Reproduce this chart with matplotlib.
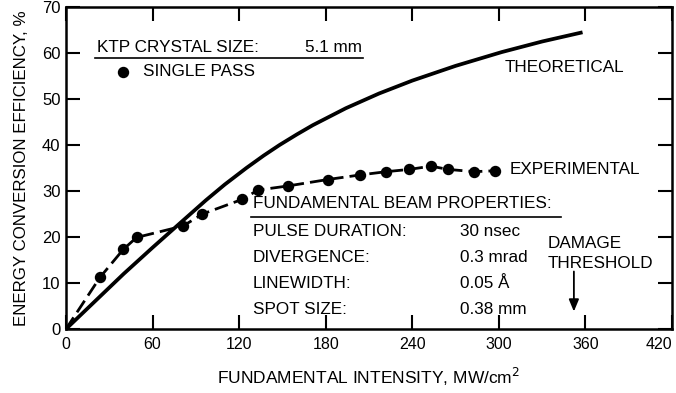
import matplotlib
matplotlib.use("Agg")
import matplotlib.pyplot as plt
import numpy as np

plt.rcParams['font.family'] = ['Liberation Sans', 'DejaVu Sans']

# Data
theo_x = [0, 20, 40, 60, 79, 97, 110, 125, 137, 148, 160, 171, 194, 217, 240, 270, 302, 330, 358]
theo_y = [0, 6.0, 12.0, 17.7, 23.0, 28.0, 31.4, 35.0, 37.7, 40.0, 42.3, 44.3, 48.0, 51.2, 54.0, 57.2, 60.2, 62.5, 64.5]

exp_x = [23.5, 39.7, 48.9, 81.2, 94.6, 122.3, 133, 153.9, 181.5, 204, 222, 238, 253, 264.6, 283, 297]
exp_y = [11.2, 17.3, 19.9, 22.4, 25.0, 28.2, 30.2, 31.1, 32.5, 33.5, 34.2, 34.7, 35.4, 34.7, 34.2, 34.4]

x_ticks = [0, 60, 120, 180, 240, 300, 360, 420]
y_ticks = [0, 10, 20, 30, 40, 50, 60, 70]

props_labels = ["PULSE DURATION:", "DIVERGENCE:", "LINEWIDTH:", "SPOT SIZE:"]
props_values = ["30 nsec", "0.3 mrad", "0.05 Å", "0.38 mm"]
damage_x = 352

W, H = 676, 393
fig = plt.figure(figsize=(W / 100, H / 100), dpi=100)
ax = fig.add_axes([66 / W, 1 - 329 / H, (672 - 66) / W, (329 - 7) / H])

ax.plot(theo_x, theo_y, color='black', lw=2.7, solid_capstyle='butt',
        solid_joinstyle='round')
ax.plot([0] + exp_x, [0] + exp_y, color='black', lw=2.0, ls=(0, (5, 2.2)),
        marker='o', ms=7.2, markevery=list(range(1, len(exp_x) + 1)))

ax.set_xlim(0, 420)
ax.set_ylim(0, 70)
ax.set_xticks(x_ticks)
ax.set_yticks(y_ticks)
ax.tick_params(direction='in', length=10, width=1.5, top=True, right=True)
ax.tick_params(axis='x', labelsize=11.5, pad=6)
ax.tick_params(axis='y', labelsize=12, pad=4)
ax.set_xticklabels([str(v) for v in x_ticks])
ax.get_xticklabels()[-1].set_horizontalalignment('right')
for s in ax.spines.values():
    s.set_linewidth(1.8)

ax.set_xlabel("FUNDAMENTAL INTENSITY, MW/cm$^2$", fontsize=12.5, labelpad=10)
ax.set_ylabel("ENERGY CONVERSION EFFICIENCY, %", fontsize=12.2, labelpad=9)

def px(xp, yp):
    return (xp - 66) / (672 - 66), (329 - yp) / (329 - 7)

tr = ax.transAxes
fs = 12.3
ax.text(*px(97, 48), "KTP CRYSTAL SIZE:", transform=tr, fontsize=fs, va='center')
ax.text(*px(305, 48), "5.1 mm", transform=tr, fontsize=fs, va='center')
ax.plot(*zip(px(95, 58), px(363, 58)), transform=tr, color='black', lw=1.2)
ax.plot(*px(123, 72), 'o', color='black', ms=7.2, transform=tr)
ax.text(*px(143, 72), "SINGLE PASS", transform=tr, fontsize=fs, va='center')
ax.text(*px(505, 67), "THEORETICAL", transform=tr, fontsize=12.3, va='center')
ax.text(*px(510, 170), "EXPERIMENTAL", transform=tr, fontsize=fs, va='center')

ax.text(*px(253, 204), "FUNDAMENTAL BEAM PROPERTIES:", transform=tr, fontsize=fs, va='center')
ax.plot(*zip(px(251, 217), px(561, 217)), transform=tr, color='black', lw=1.2)
for i, (lab, val) in enumerate(zip(props_labels, props_values)):
    yp = 232 + i * 25.7
    ax.text(*px(253, yp), lab, transform=tr, fontsize=fs, va='center')
    ax.text(*px(460, yp), val, transform=tr, fontsize=fs, va='center')

ax.text(*px(548, 243), "DAMAGE", transform=tr, fontsize=fs, va='center')
ax.text(*px(548, 263), "THRESHOLD", transform=tr, fontsize=fs, va='center')
ax.annotate("", xy=(damage_x, 3.8), xytext=(damage_x, 12.5),
            arrowprops=dict(arrowstyle='-|>,head_length=0.6,head_width=0.25',
                            color='black', lw=1.3,
                            mutation_scale=12, shrinkA=0, shrinkB=0))

fig.savefig("out.png", dpi=100)
